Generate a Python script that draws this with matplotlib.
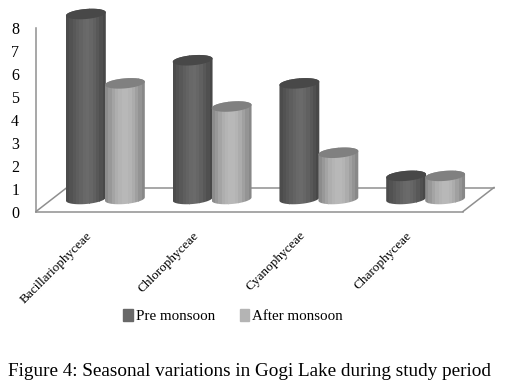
import numpy as np
import matplotlib
matplotlib.use("Agg")
import matplotlib.pyplot as plt
from matplotlib.patches import Patch, Polygon
from matplotlib.transforms import ScaledTranslation

categories = ["Bacillariophyceae", "Chlorophyceae", "Cyanophyceae", "Charophyceae"]
pre_monsoon = [8, 6, 5, 1]
after_monsoon = [5, 4, 2, 1]
series_names = ["Pre monsoon", "After monsoon"]
y_ticks = list(range(0, 9))
caption = "Figure 4: Seasonal variations in Gogi Lake during study period"

W, H = 506, 383
plt.rcParams["font.family"] = ["Liberation Serif", "DejaVu Serif"]
fig = plt.figure(figsize=(W / 100, H / 100), dpi=100, facecolor="white")


def axes_px(x0, x1, ytop, ybot):
    return fig.add_axes([x0 / W, 1 - ybot / H, (x1 - x0) / W, (ybot - ytop) / H])


GREY = "#8f8f8f"
# front plane: real axes with ticks
ax = axes_px(36, 463, 27.5, 211.5)
ax.set_xlim(-0.5, 3.5)
ax.set_ylim(0, 8)
ax.set_facecolor("none")
for s in ("top", "right"):
    ax.spines[s].set_visible(False)
for s in ("left", "bottom"):
    ax.spines[s].set_color(GREY)
    ax.spines[s].set_linewidth(1.1)
ax.set_yticks(y_ticks)
ax.set_xticks(range(len(categories)))
ax.set_xticklabels(categories, rotation=45, ha="right", va="top",
                   rotation_mode="anchor", fontsize=9.5)
ax.tick_params(axis="x", length=0, pad=13)
ax.tick_params(axis="y", length=0, pad=15, labelsize=11.5)
shift = ScaledTranslation(-3.5 / 100, 0, fig.dpi_scale_trans)
for lab in ax.get_xticklabels():
    lab.set_transform(lab.get_transform() + shift)
for lab in ax.get_yticklabels():
    lab.set_ha("center")

# floor depth
px_x = 427 / 4
px_y = 184 / 8
dx, dy = 31 / px_x, 24 / px_y
ax.plot([-0.5, -0.5 + dx], [0, dy], color=GREY, lw=1.1, clip_on=False)
ax.plot([3.5, 3.5 + dx], [0, dy], color=GREY, lw=1.1, clip_on=False)
ax.plot([-0.5 + dx, 3.5 + dx], [dy, dy], color=GREY, lw=1.1, clip_on=False)

handles = [Patch(color="#686868", label=series_names[0]),
           Patch(color="#b4b4b4", label=series_names[1])]
fig.legend(handles=handles, loc="center", bbox_to_anchor=(233 / W, 1 - 316 / H),
           ncol=2, frameon=False, fontsize=10.8, handlelength=0.62, handleheight=0.85,
           handletextpad=0.2, columnspacing=1.65, borderpad=0, borderaxespad=0)

fig.text(249.5 / W, 1 - 371.5 / H, caption, ha="center", va="center", fontsize=13.8)

# cylinders, on a plane shifted back from the front one
bx = axes_px(52, 479, 14, 199)
bx.set_xlim(-0.5, 3.5)
bx.set_ylim(0, 8)
bx.axis("off")
bx.patch.set_alpha(0)

sx = 427 / 4   # px per category
sy = 185 / 8   # px per unit
A, B, TILT = 20.0, 5.0, np.radians(5)
OFFSET = 19.5 / sx
DARK_BANDS = ["#4c4c4c", "#525252", "#585858", "#5e5e5e", "#636363", "#686868",
              "#6a6a6a", "#666666", "#606060", "#585858", "#505050", "#484848"]
LIGHT_BANDS = ["#8c8c8c", "#989898", "#a4a4a4", "#aeaeae", "#b4b4b4", "#b8b8b8",
               "#b8b8b8", "#b4b4b4", "#acacac", "#a0a0a0", "#949494", "#888888"]
TOPS = ["#484848", "#808080"]


def ell(cx, cy, t):
    px = A * np.cos(t) * np.cos(TILT) - B * np.sin(t) * np.sin(TILT)
    py = A * np.cos(t) * np.sin(TILT) + B * np.sin(t) * np.cos(TILT)
    return np.column_stack([cx + px / sx, cy + py / sy])


for values, sign, bands, top in ((pre_monsoon, -1, DARK_BANDS, TOPS[0]),
                                 (after_monsoon, 1, LIGHT_BANDS, TOPS[1])):
    for i, v in enumerate(values):
        c = i + sign * OFFSET
        lower = ell(c, 0, np.linspace(np.pi, 2 * np.pi, 40))
        upper = ell(c, v, np.linspace(0, np.pi, 40))
        clip = Polygon(np.vstack([lower, upper]), closed=True, transform=bx.transData,
                       fc="none", ec="none", clip_on=False)
        bx.add_patch(clip)
        n = len(bands)
        bw = 2 * A / sx / n * 1.01
        xs = c - A / sx + (np.arange(n) + 0.5) * bw
        rects = bx.bar(xs, v + 1.0, bw * 1.05, bottom=-0.5, color=bands, linewidth=0,
                       zorder=3 + i * 0.1 + (sign + 1) * 0.02)
        for r in rects:
            r.set_clip_box(None)
            r.set_clip_path(clip)
        bx.add_patch(Polygon(ell(c, v, np.linspace(0, 2 * np.pi, 80)), closed=True,
                             fc=top, ec="none", clip_on=False,
                             zorder=3.01 + i * 0.1 + (sign + 1) * 0.02))

fig.savefig("out.png", dpi=100)
